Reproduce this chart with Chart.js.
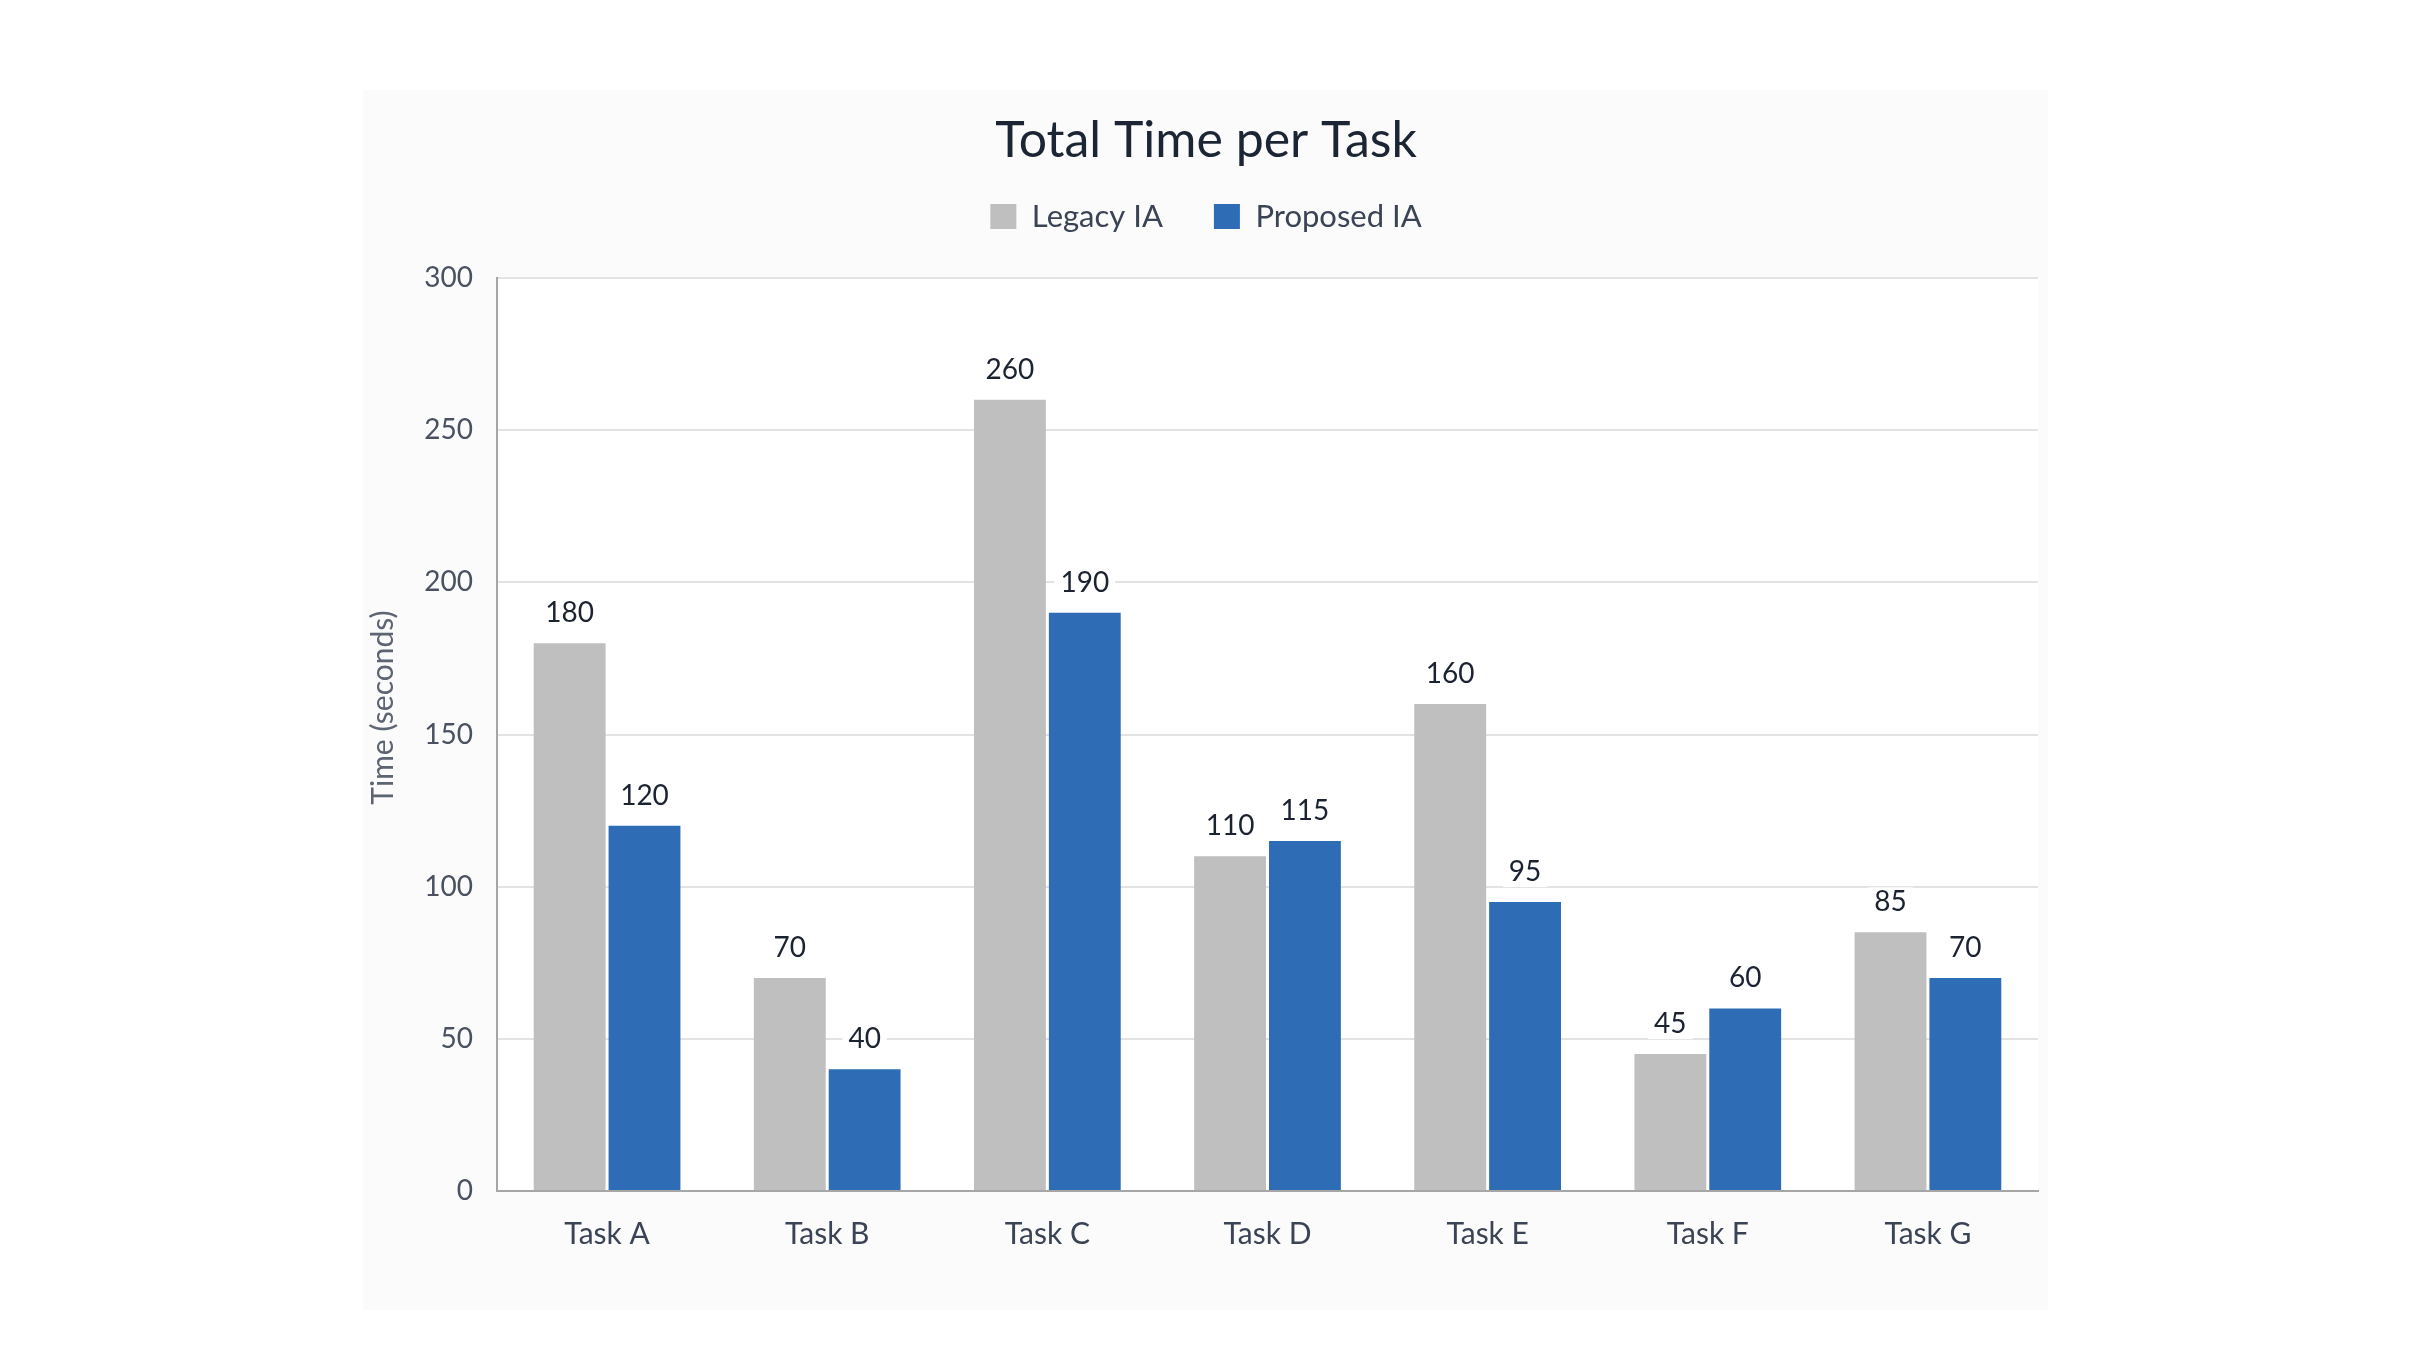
<!DOCTYPE html>
<html>
<head>
<meta charset="utf-8">
<script src="https://cdn.jsdelivr.net/npm/chart.js@4.4.1/dist/chart.umd.min.js"></script>
<style>
  html, body { margin: 0; padding: 0; background: #ffffff; }
  #wrap { width: 2430px; height: 1364px; position: relative; }
</style>
</head>
<body>
<div id="wrap"><canvas id="c"></canvas></div>
<script>
const categories = ['Task A', 'Task B', 'Task C', 'Task D', 'Task E', 'Task F', 'Task G'];
const legacyIA = [180, 70, 260, 110, 160, 45, 85];
const proposedIA = [120, 40, 190, 115, 95, 60, 70];
const seriesNames = ['Legacy IA', 'Proposed IA'];
const yTicks = [0, 50, 100, 150, 200, 250, 300];
const chartTitle = 'Total Time per Task';
const yTitle = 'Time (seconds)';

const FONT = 'Lato, "Open Sans", sans-serif';
const PANEL = '#fbfbfb';
const AREA = '#ffffff';

const bgPlugin = {
  id: 'bg',
  beforeDraw(chart) {
    const ctx = chart.ctx;
    ctx.save();
    ctx.fillStyle = '#ffffff';
    ctx.fillRect(0, 0, chart.width, chart.height);
    ctx.fillStyle = PANEL;
    ctx.fillRect(363, 90, 2048 - 363, 1310 - 90);
    const a = chart.chartArea;
    ctx.fillStyle = AREA;
    ctx.fillRect(a.left, a.top, a.right - a.left, a.bottom - a.top);
    ctx.restore();
  },
  afterDraw(chart) {
    const ctx = chart.ctx;
    const a = chart.chartArea;
    ctx.save();
    ctx.translate(383, (a.top + a.bottom) / 2 - 27);
    ctx.rotate(-Math.PI / 2);
    ctx.font = '30px ' + FONT;
    ctx.fillStyle = '#5d6472';
    ctx.textAlign = 'center';
    ctx.textBaseline = 'middle';
    ctx.fillText(yTitle, 0, 0);
    ctx.restore();
  }
};

const legendGap = {
  id: 'legendGap',
  beforeInit(chart) {
    const orig = chart.legend.fit;
    chart.legend.fit = function () {
      orig.bind(chart.legend)();
      this.height += 36;
    };
  }
};

const valueLabels = {
  id: 'valueLabels',
  afterDatasetsDraw(chart) {
    const ctx = chart.ctx;
    ctx.save();
    ctx.font = '28px ' + FONT;
    ctx.textAlign = 'center';
    ctx.textBaseline = 'middle';
    chart.data.datasets.forEach((ds, i) => {
      const meta = chart.getDatasetMeta(i);
      meta.data.forEach((bar, j) => {
        const txt = String(ds.data[j]);
        const y = bar.y - 30;
        const w = ctx.measureText(txt).width + 12;
        ctx.fillStyle = AREA;
        ctx.fillRect(bar.x - w / 2, y - 15, w, 30);
        ctx.fillStyle = '#1b2230';
        ctx.fillText(txt, bar.x, y);
      });
    });
    ctx.restore();
  }
};

new Chart(document.getElementById('c'), {
  type: 'bar',
  data: {
    labels: categories,
    datasets: [
      { label: seriesNames[0], data: legacyIA, backgroundColor: '#bfbfbf', borderWidth: 0 },
      { label: seriesNames[1], data: proposedIA, backgroundColor: '#2e6db6', borderWidth: 0 }
    ]
  },
  options: {
    responsive: true,
    maintainAspectRatio: false,
    devicePixelRatio: 1,
    animation: false,
    layout: { padding: { top: 80, left: 374, right: 392, bottom: 73 } },
    datasets: { bar: { categoryPercentage: 0.68, barPercentage: 0.96 } },
    plugins: {
      title: {
        display: true,
        text: chartTitle,
        color: '#1c2533',
        font: { family: FONT, size: 50, weight: '400', lineHeight: 1.2 },
        padding: { top: 31, bottom: -21 }
      },
      legend: {
        display: true,
        position: 'top',
        labels: {
          color: '#3b4455',
          font: { family: FONT, size: 31 },
          boxWidth: 26,
          boxHeight: 25,
          padding: 51
        }
      },
      tooltip: { enabled: false }
    },
    scales: {
      x: {
        grid: { display: false, drawTicks: false },
        border: { display: true, color: '#a6a6a6', width: 2 },
        ticks: { color: '#3b4455', font: { family: FONT, size: 30 }, padding: 25 },
        afterFit(scale) { scale.height = 100; }
      },
      y: {
        min: 0,
        max: 300,
        afterBuildTicks(scale) { scale.ticks = yTicks.map(v => ({ value: v })); },
        grid: { color: '#e3e3e3', lineWidth: 2, drawTicks: false },
        border: { display: true, color: '#a6a6a6', width: 2 },
        ticks: { color: '#4a5262', font: { family: FONT, size: 28 }, padding: 24 },
        afterFit(scale) { scale.width = 123; }
      }
    }
  },
  plugins: [bgPlugin, legendGap, valueLabels]
});
</script>
</body>
</html>
